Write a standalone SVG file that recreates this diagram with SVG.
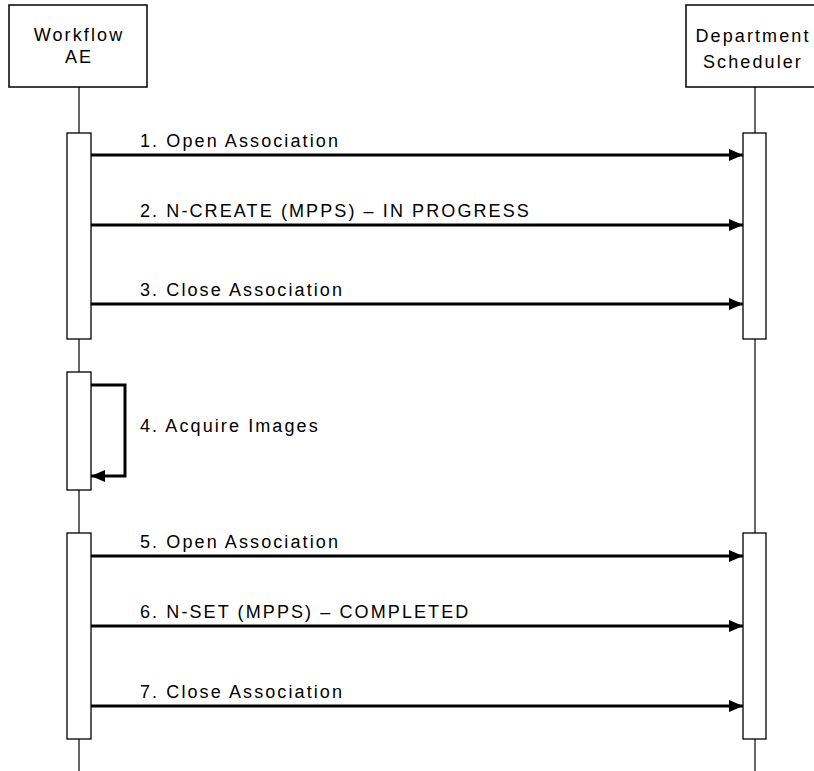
<svg xmlns="http://www.w3.org/2000/svg" width="814" height="771" viewBox="0 0 814 771">
<style>
.box{fill:#fff;stroke:#000;stroke-width:1.5}
.act{fill:#fff;stroke:#000;stroke-width:1.3}
.life{stroke:#000;stroke-width:1.2;fill:none}
.msg{stroke:#000;stroke-width:3;fill:none}
text{font-family:"Liberation Sans",Arial,sans-serif;font-size:18px;letter-spacing:2.1px;fill:#000}
.c{text-anchor:middle}
</style>
<defs>
<marker id="ah" markerUnits="userSpaceOnUse" markerWidth="14" markerHeight="14" viewBox="0 0 14 14" refX="14" refY="7" orient="auto">
<path d="M0,1 L14,7 L0,13 Z" fill="#000"/>
</marker>
</defs>
<g id="lifelines">
<line class="life" x1="79" y1="87" x2="79" y2="771"/>
<line class="life" x1="755" y1="87" x2="755" y2="771"/>
</g>
<g id="workflow-ae">
<rect class="box" x="9" y="5" width="138" height="82"/>
<text class="c" x="79" y="41">Workflow</text>
<text class="c" x="79" y="63">AE</text>
</g>
<g id="department-scheduler">
<rect class="box" x="686" y="5" width="140" height="82"/>
<text class="c" x="753" y="42">Department</text>
<text class="c" x="753" y="68">Scheduler</text>
</g>
<g id="activations">
<rect class="act" x="67" y="133" width="24" height="206"/>
<rect class="act" x="67" y="372" width="24" height="118"/>
<rect class="act" x="67" y="533" width="24" height="206"/>
<rect class="act" x="743" y="133" width="23" height="206"/>
<rect class="act" x="743" y="533" width="23" height="206"/>
</g>
<g id="connectors">
<line class="msg" x1="91" y1="155" x2="743" y2="155" marker-end="url(#ah)"/>
<line class="msg" x1="91" y1="225" x2="743" y2="225" marker-end="url(#ah)"/>
<line class="msg" x1="91" y1="304" x2="743" y2="304" marker-end="url(#ah)"/>
<polyline class="msg" points="91,385 125,385 125,476 91,476" marker-end="url(#ah)"/>
<line class="msg" x1="91" y1="556" x2="743" y2="556" marker-end="url(#ah)"/>
<line class="msg" x1="91" y1="626" x2="743" y2="626" marker-end="url(#ah)"/>
<line class="msg" x1="91" y1="706" x2="743" y2="706" marker-end="url(#ah)"/>
</g>
<g id="labels">
<text x="140" y="147">1. Open Association</text>
<text x="140" y="217">2. N-CREATE (MPPS) – IN PROGRESS</text>
<text x="140" y="296">3. Close Association</text>
<text x="140" y="432">4. Acquire Images</text>
<text x="140" y="548">5. Open Association</text>
<text x="140" y="618">6. N-SET (MPPS) – COMPLETED</text>
<text x="140" y="698">7. Close Association</text>
</g>
</svg>
